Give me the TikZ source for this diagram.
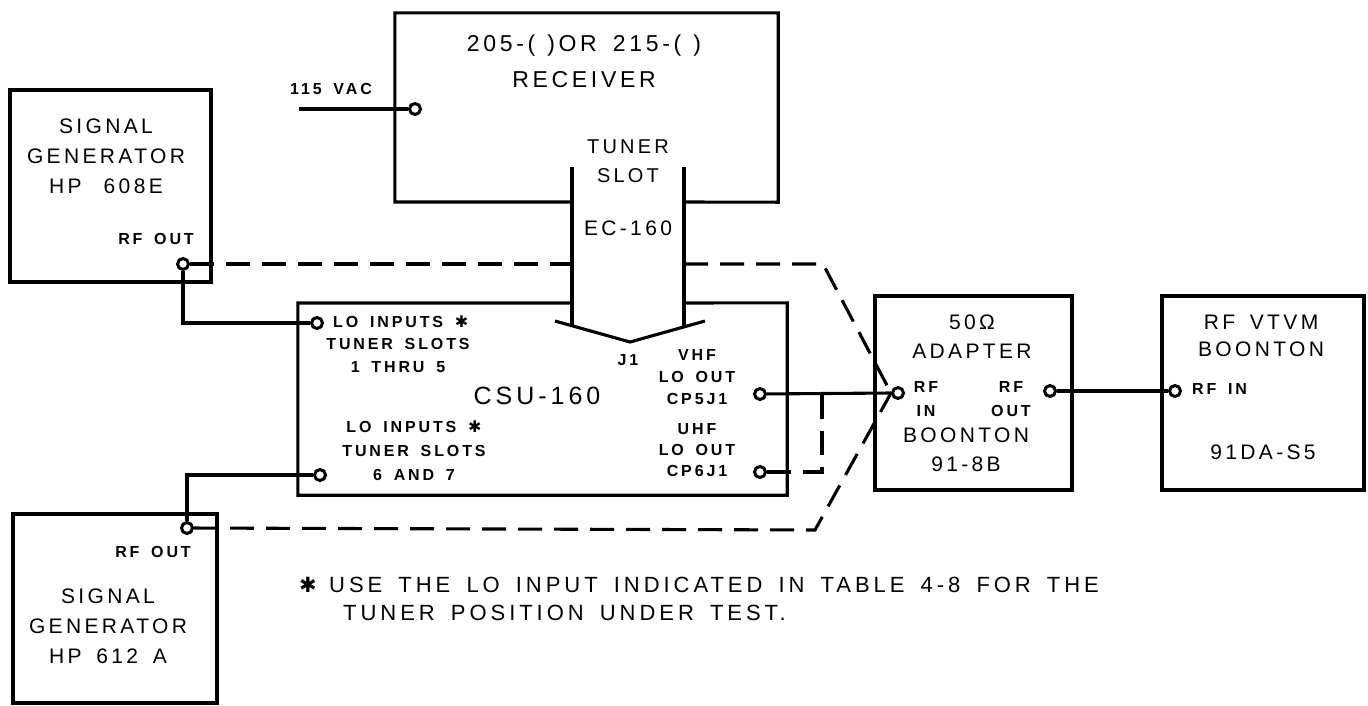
\documentclass[tikz,border=0pt]{standalone}
\usepackage{fontspec}
\setmainfont[LetterSpace=16, WordSpace=1.6]{Liberation Sans}
\newfontfamily\tagfont[LetterSpace=18, WordSpace=1.5]{Liberation Sans}
\newfontfamily\notefont[LetterSpace=18, WordSpace=1.6]{Liberation Sans}
\newfontfamily\symfont{DejaVu Sans}
\usetikzlibrary{positioning}

\newcommand{\astx}{{\symfont\mdseries ✱}}

\tikzset{
  wire/.style={line width=3.1pt, line join=miter},
  cable/.style={line width=3.1pt, dash pattern=on 24pt off 12pt},
  unit/.style={draw, line width=3.1pt, inner sep=0pt},
  hollow/.style={inner sep=0pt},
  port/.style={circle, draw, fill=white, line width=3pt, minimum size=11pt, inner sep=0pt},
  title/.style={font=\fontsize{21}{30}\selectfont, align=center, inner sep=0pt},
  tag/.style={font=\tagfont\bfseries\fontsize{16}{23}\selectfont, align=center, inner sep=0pt},
}

\begin{document}
\begin{tikzpicture}[x=1pt, y=-1pt]
\useasboundingbox (0,0) rectangle (1368,705);

% units
\node[unit, minimum width=201pt, minimum height=192pt] (gen1) at (110.5,186) {};
\node[unit, minimum width=204pt, minimum height=189pt] (gen2) at (115,608.5) {};
\node[unit, minimum width=197pt, minimum height=194pt] (adapt) at (973.5,393) {};
\node[unit, minimum width=202pt, minimum height=194pt] (vtvm) at (1263,393) {};
\node[hollow, minimum width=383pt, minimum height=189pt] (rcvr) at (586.5,107.5) {};
\node[hollow, minimum width=489pt, minimum height=192pt] (csu) at (542.5,399) {};

% tuner slot and extender
\coordinate (slotL) at (572,167);
\coordinate (slotR) at (684,167);
\draw[wire] (572,202) -| (rcvr.north west) -| (rcvr.south east) -- (684,202);
\draw[wire] (572,303) -| (csu.south west) -| (csu.north east) -- (684,303);
\draw[wire] (slotL) -- (572,326);
\draw[wire] (slotR) -- (684,326);
\draw[wire] (555,321) -- (630,342) -- (705,321);

% ports
\node[port] (vac) at (415,109) {};
\node[port] (out1) at (183,264) {};
\node[port] (loA) at (317,323) {};
\node[port] (loB) at (320,475) {};
\node[port] (out2) at (187,528) {};
\node[port] (vhf) at (760,394) {};
\node[port] (uhf) at (760,472) {};
\node[port] (adin) at (898,393) {};
\node[port] (adout) at (1050,391) {};
\node[port] (vtin) at (1175,391) {};

% connections
\coordinate (mains) at (299,109);
\coordinate (bendA) at (823,264);
\coordinate (bendB) at (815,530);
\coordinate (bendC) at (822,472);
\coordinate (tee) at (822,394);
\draw[wire] (mains) -- (vac);
\draw[wire] (out1) |- (loA);
\draw[wire] (out2) |- (loB);
\draw[wire] (vhf) -- (adin.west);
\draw[wire] (adout) -- (vtin);
\draw[cable] (out1) -- (out1 -| slotL);
\draw[cable] (out1 -| slotR) -- (bendA) -- (adin.west);
\draw[cable] (out2) -- (bendB) -- (adin.west);
\draw[cable] (uhf) -- (bendC) -- (tee);

% labels
\node[tag] (vaclbl) at (331,89) {115 VAC};
\node[title] (gen1lbl) at (106,156) {SIGNAL\\GENERATOR\\HP\hspace{22pt}608E};
\node[tag] (out1lbl) at (156,239) {RF OUT};
\node[tag] (out2lbl) at (153,552) {RF OUT};
\node[title] (gen2lbl) at (108,626) {SIGNAL\\GENERATOR\\HP 612 A};
\node[title, font=\fontsize{23}{36}\selectfont] (rcvrlbl) at (584,61) {205-(\hspace{12pt})OR 215-(\hspace{12pt})\\RECEIVER};
\node[title, font=\fontsize{20}{29}\selectfont] (slotlbl) at (628,161.5) {TUNER\\SLOT};
\node[title] (eclbl) at (628,228) {EC-160};
\node[tag, anchor=west] (loAlbl) at (333,322) {LO INPUTS \astx};
\node[tag] (loAsub) at (398,355) {TUNER SLOTS\\1 THRU 5};
\node[title, font=\fontsize{25}{30}\selectfont] (csulbl) at (537,396) {CSU-160};
\node[tag, font=\tagfont\bfseries\fontsize{16}{24}\selectfont] (loBlbl) at (414,451) {LO INPUTS \astx\\TUNER SLOTS\\6 AND 7};
\node[tag] (jlbl) at (628,360) {J1};
\node[tag, font=\tagfont\bfseries\fontsize{16}{22}\selectfont] (vhflbl) at (697,377) {VHF\\LO OUT\\CP5J1};
\node[tag, font=\tagfont\bfseries\fontsize{16}{21}\selectfont] (uhflbl) at (697,450) {UHF\\LO OUT\\CP6J1};
\node[title, font=\fontsize{21}{29}\selectfont] (adlbl) at (972,337) {50Ω\\ADAPTER};
\node[tag, font=\tagfont\bfseries\fontsize{16}{24}\selectfont] (adinlbl) at (926,399) {RF\\IN};
\node[tag, font=\tagfont\bfseries\fontsize{16}{24}\selectfont] (adoutlbl) at (1011,399) {RF\\OUT};
\node[title, font=\fontsize{21}{29}\selectfont] (admodel) at (966,450) {BOONTON\\91-8B};
\node[title, font=\fontsize{21}{27}\selectfont] (vtvmlbl) at (1261,336) {RF VTVM\\BOONTON};
\node[tag, anchor=west] (vtinlbl) at (1192,389) {RF IN};
\node[title] (vtmodel) at (1263,452) {91DA-S5};

% note
\node[font=\fontsize{21}{22}\selectfont, inner sep=0pt] (star) at (308,585) {\astx};
\node[font=\notefont\fontsize{22}{28}\selectfont, inner sep=0pt, anchor=west] (note1) at (329,585) {USE THE LO INPUT INDICATED IN TABLE 4-8 FOR THE};
\node[font=\notefont\fontsize{22}{28}\selectfont, inner sep=0pt, anchor=west] (note2) at (343,613) {TUNER POSITION UNDER TEST.};
\end{tikzpicture}
\end{document}
